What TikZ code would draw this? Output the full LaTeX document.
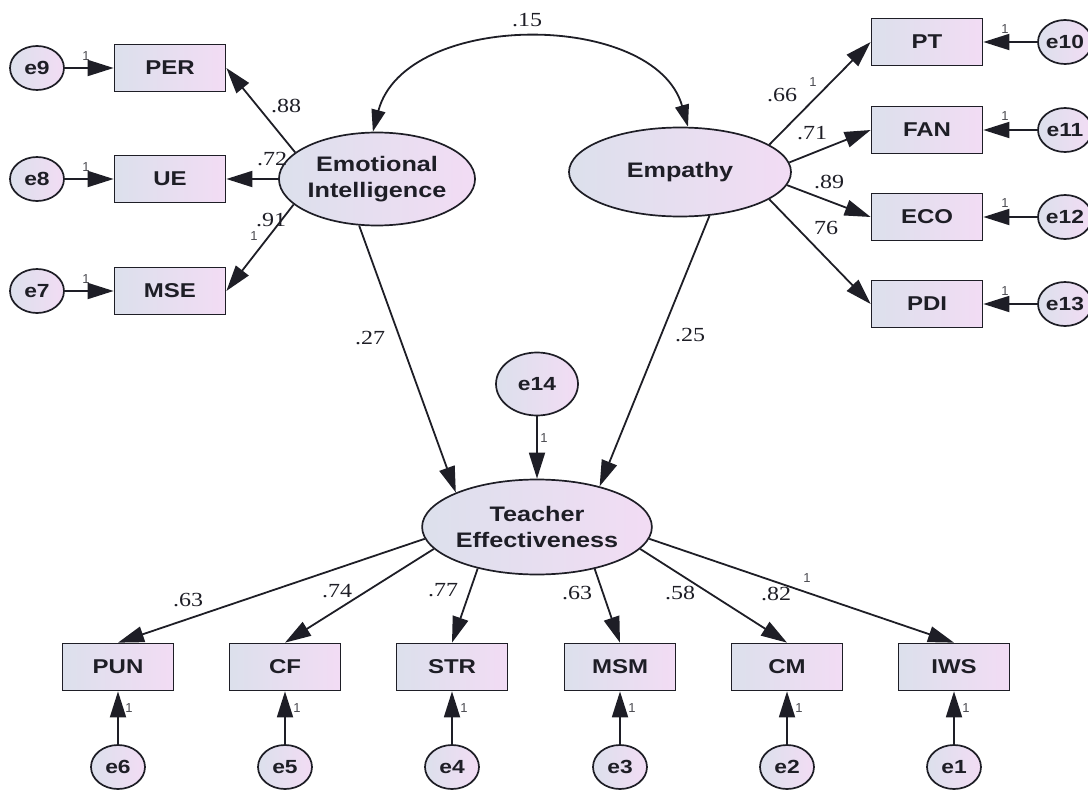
\documentclass[tikz,border=0pt]{standalone}
\usepackage{fontspec}
\usepackage{graphicx}
\usetikzlibrary{shapes.geometric,arrows.meta}
\newfontfamily\lsans{Liberation Sans}
\newfontfamily\lserif{Liberation Serif}
\newcommand\sx[1]{\scalebox{1.2}[1]{#1}}
\definecolor{boxL}{RGB}{220,224,236}
\definecolor{boxR}{RGB}{242,220,244}
\definecolor{ink}{RGB}{30,30,38}
\tikzset{
  obs/.style={draw=ink, line width=1.7pt, rectangle, minimum width=111pt, minimum height=47pt,
    inner sep=0pt, left color=boxL, right color=boxR, text=ink,
    font=\lsans\bfseries\fontsize{20}{20}\selectfont},
  err/.style={draw=ink, line width=1.7pt, ellipse, minimum width=54pt, minimum height=44pt,
    inner sep=0pt, left color=boxL, right color=boxR, text=ink,
    font=\lsans\bfseries\fontsize{19}{19}\selectfont},
  lat/.style={draw=ink, line width=1.7pt, ellipse, inner sep=0pt, align=center,
    left color=boxL, right color=boxR, text=ink,
    font=\lsans\bfseries\fontsize{21}{26}\selectfont},
  arr/.style={draw=ink, line width=1.8pt, -{Triangle[length=26pt,width=16pt]}},
  dbl/.style={draw=ink, line width=1.8pt, {Triangle[length=22pt,width=14pt]}-{Triangle[length=22pt,width=14pt]}},
  coef/.style={text=ink, inner sep=0pt, font=\lserif\fontsize{20}{20}\selectfont},
  one/.style={text=ink!80, inner sep=0pt, font=\lsans\fontsize{13}{13}\selectfont}
}
\begin{document}
\begin{tikzpicture}[x=1pt,y=-1pt]
\useasboundingbox (0,0) rectangle (1088,792);
\clip (0,0) rectangle (1088,792);
% latent variables
\node[lat, minimum width=186pt, minimum height=93pt] (EI) at (377,179) {\sx{Emotional}\\\sx{Intelligence}};
\node[lat, minimum width=222pt, minimum height=89pt] (Emp) at (680,172) {\sx{Empathy}};
\node[lat, minimum width=223pt, minimum height=95pt] (TE) at (537,527) {\sx{Teacher}\\\sx{Effectiveness}};
% left indicators
\node[obs] (PER) at (170,68) {\sx{PER}};
\node[obs] (UE) at (170,179) {\sx{UE}};
\node[obs] (MSE) at (170,291) {\sx{MSE}};
\node[err] (e9) at (37,68) {\sx{e9}};
\node[err] (e8) at (37,179) {\sx{e8}};
\node[err] (e7) at (37,291) {\sx{e7}};
% right indicators
\node[obs] (PT) at (927,42) {\sx{PT}};
\node[obs] (FAN) at (927,130) {\sx{FAN}};
\node[obs] (ECO) at (927,217) {\sx{ECO}};
\node[obs] (PDI) at (927,304) {\sx{PDI}};
\node[err] (e10) at (1065,42) {\sx{e10}};
\node[err] (e11) at (1065,130) {\sx{e11}};
\node[err] (e12) at (1065,217) {\sx{e12}};
\node[err] (e13) at (1065,304) {\sx{e13}};
% structural error
\node[err, minimum width=82pt, minimum height=63pt] (e14) at (537,384) {\sx{e14}};
% bottom indicators
\node[obs] (PUN) at (118,667) {\sx{PUN}};
\node[obs] (CF) at (285,667) {\sx{CF}};
\node[obs] (STR) at (452,667) {\sx{STR}};
\node[obs] (MSM) at (620,667) {\sx{MSM}};
\node[obs] (CM) at (787,667) {\sx{CM}};
\node[obs] (IWS) at (954,667) {\sx{IWS}};
\node[err] (e6) at (118,767) {\sx{e6}};
\node[err] (e5) at (285,767) {\sx{e5}};
\node[err] (e4) at (452,767) {\sx{e4}};
\node[err] (e3) at (620,767) {\sx{e3}};
\node[err] (e2) at (787,767) {\sx{e2}};
\node[err] (e1) at (954,767) {\sx{e1}};
% covariance
\draw[dbl] (EI.95) .. controls (405,10) and (655,10) .. (Emp.80);
\node[coef] (c15) at (527,20) {\sx{.15}};
% EI loadings
\draw[arr] (EI.162) -- (PER.east);
\draw[arr] (EI.west) -- (UE.east);
\draw[arr] (EI.197) -- (MSE.east);
\node[coef] (c88) at (286,106) {\sx{.88}};
\node[coef] (c72) at (272,159) {\sx{.72}};
\node[coef] (c91) at (271,220) {\sx{.91}};
\node[one] (o91) at (254,236) {1};
\draw[arr] (e9) -- (PER);
\draw[arr] (e8) -- (UE);
\draw[arr] (e7) -- (MSE);
\node[one] (o9) at (86,56) {1};
\node[one] (o8) at (86,167) {1};
\node[one] (o7) at (86,279) {1};
% Empathy loadings
\draw[arr] (Emp.17) -- (PT.west);
\draw[arr] (Emp.5) -- (FAN.west);
\draw[arr] (Emp.353) -- (ECO.west);
\draw[arr] (Emp.343) -- (PDI.west);
\node[coef] (c66) at (782,95) {\sx{.66}};
\node[one] (o66) at (813,82) {1};
\node[coef] (c71) at (812,133) {\sx{.71}};
\node[coef] (c89) at (829,182) {\sx{.89}};
\node[coef] (c76) at (826,228) {\sx{76}};
\draw[arr] (e10) -- (PT);
\draw[arr] (e11) -- (FAN);
\draw[arr] (e12) -- (ECO);
\draw[arr] (e13) -- (PDI);
\node[one] (o10) at (1005,29) {1};
\node[one] (o11) at (1005,116) {1};
\node[one] (o12) at (1005,203) {1};
\node[one] (o13) at (1005,291) {1};
% structural paths
\draw[arr] (EI.249) -- (TE.157);
\draw[arr] (Emp.304) -- (TE.33);
\draw[arr] (e14) -- (TE);
\node[coef] (c27) at (370,338) {\sx{.27}};
\node[coef] (c25) at (690,335) {\sx{.25}};
\node[one] (o14) at (544,438) {1};
% TE loadings
\draw[arr] (TE.186) -- (PUN.north);
\draw[arr] (TE.192) -- (CF.north);
\draw[arr] (TE.215) -- (STR.north);
\draw[arr] (TE.324) -- (MSM.north);
\draw[arr] (TE.348) -- (CM.north);
\draw[arr] (TE.354) -- (IWS.north);
\node[coef] (c63a) at (188,600) {\sx{.63}};
\node[coef] (c74) at (337,591) {\sx{.74}};
\node[coef] (c77) at (443,590) {\sx{.77}};
\node[coef] (c63b) at (577,593) {\sx{.63}};
\node[coef] (c58) at (680,593) {\sx{.58}};
\node[coef] (c82) at (776,594) {\sx{.82}};
\node[one] (o82) at (807,578) {1};
% bottom errors
\draw[arr] (e6) -- (PUN);
\draw[arr] (e5) -- (CF);
\draw[arr] (e4) -- (STR);
\draw[arr] (e3) -- (MSM);
\draw[arr] (e2) -- (CM);
\draw[arr] (e1) -- (IWS);
\node[one] (o6) at (129,708) {1};
\node[one] (o5) at (297,708) {1};
\node[one] (o4) at (464,708) {1};
\node[one] (o3) at (632,708) {1};
\node[one] (o2) at (799,708) {1};
\node[one] (o1) at (966,708) {1};
\end{tikzpicture}
\end{document}
